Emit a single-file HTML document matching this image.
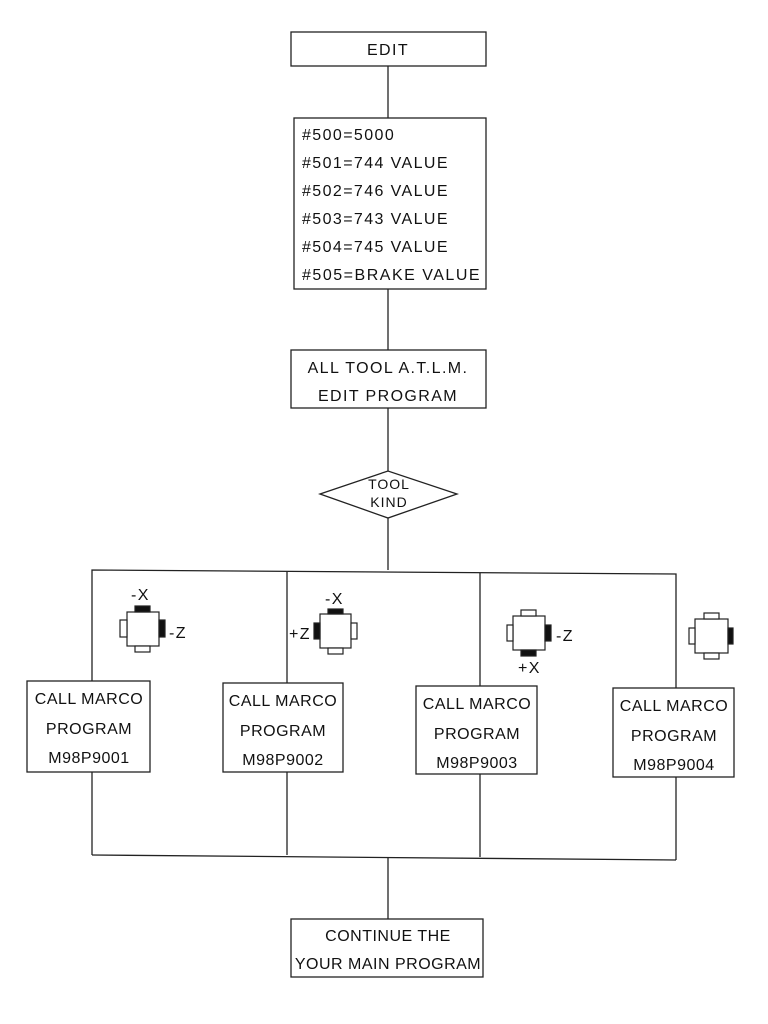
<!DOCTYPE html>
<html><head><style>
html,body{margin:0;padding:0;background:#fff;}
svg{display:block;}
text{font-family:"Liberation Sans",sans-serif;font-size:16px;fill:#111;letter-spacing:1.4px;}
.b text{letter-spacing:0.5px;}
</style></head><body>
<svg width="768" height="1024" viewBox="0 0 768 1024" xmlns="http://www.w3.org/2000/svg">
<g stroke="#222" stroke-width="1.3" fill="none">
<line x1="388" y1="66" x2="388" y2="118"/>
<line x1="388" y1="289" x2="388" y2="350"/>
<line x1="388" y1="408" x2="388" y2="471"/>
<line x1="388" y1="518" x2="388" y2="570"/>
<rect x="291" y="32" width="195" height="34" fill="#fff"/>
<rect x="294" y="118" width="192" height="171" fill="#fff"/>
<rect x="291" y="350" width="195" height="58" fill="#fff"/>
<polygon points="320,494 388,471 457,494 388,518" fill="#fff"/>
<polyline points="92,681 92,570 676,574 676,688"/>
<line x1="287" y1="571" x2="287" y2="683"/>
<line x1="480" y1="573" x2="480" y2="686"/>
<line x1="92" y1="772" x2="92" y2="855"/>
<line x1="287" y1="772" x2="287" y2="855"/>
<line x1="480" y1="774" x2="480" y2="857"/>
<line x1="676" y1="777" x2="676" y2="860"/>
<line x1="92" y1="855" x2="676" y2="860"/>
<line x1="388" y1="857" x2="388" y2="919"/>
<rect x="27" y="681" width="123" height="91" fill="#fff"/>
<rect x="223" y="683" width="120" height="89" fill="#fff"/>
<rect x="416" y="686" width="121" height="88" fill="#fff"/>
<rect x="613" y="688" width="121" height="89" fill="#fff"/>
<rect x="291" y="919" width="192" height="58" fill="#fff"/>
</g>
<text x="388" y="55" text-anchor="middle">EDIT</text>
<text x="302" y="140">#500=5000</text>
<text x="302" y="168">#501=744 VALUE</text>
<text x="302" y="196">#502=746 VALUE</text>
<text x="302" y="224">#503=743 VALUE</text>
<text x="302" y="252">#504=745 VALUE</text>
<text x="302" y="280" textLength="179">#505=BRAKE VALUE</text>
<text x="388" y="373" text-anchor="middle">ALL TOOL A.T.L.M.</text>
<text x="388" y="401" text-anchor="middle">EDIT PROGRAM</text>
<text x="389" y="489" text-anchor="middle" style="font-size:14px;letter-spacing:1px">TOOL</text>
<text x="389" y="507" text-anchor="middle" style="font-size:14px;letter-spacing:1px">KIND</text>
<g text-anchor="middle" class="b">
<text x="89" y="704">CALL MARCO</text><text x="89" y="734">PROGRAM</text><text x="89" y="763">M98P9001</text>
<text x="283" y="706">CALL MARCO</text><text x="283" y="736">PROGRAM</text><text x="283" y="765">M98P9002</text>
<text x="477" y="709">CALL MARCO</text><text x="477" y="739">PROGRAM</text><text x="477" y="768">M98P9003</text>
<text x="674" y="711">CALL MARCO</text><text x="674" y="741">PROGRAM</text><text x="674" y="770">M98P9004</text>
<text x="388" y="941">CONTINUE THE</text>
<text x="388" y="969">YOUR MAIN PROGRAM</text>
</g>
<g stroke="#222" stroke-width="1.2" fill="#fff">
<rect x="127" y="612" width="32" height="34"/>
<rect x="120" y="620" width="7" height="17"/><rect x="135" y="646" width="15" height="6"/>
<rect x="135" y="606" width="15" height="6" fill="#111"/><rect x="159" y="620" width="6" height="17" fill="#111"/>
<rect x="320" y="614" width="31" height="34"/>
<rect x="351" y="623" width="6" height="16"/><rect x="328" y="648" width="15" height="6"/>
<rect x="328" y="609" width="15" height="5" fill="#111"/><rect x="314" y="623" width="6" height="16" fill="#111"/>
<rect x="513" y="616" width="32" height="34"/>
<rect x="507" y="625" width="6" height="16"/><rect x="521" y="610" width="15" height="6"/>
<rect x="521" y="650" width="15" height="6" fill="#111"/><rect x="545" y="625" width="6" height="16" fill="#111"/>
<rect x="695" y="619" width="33" height="34"/>
<rect x="689" y="628" width="6" height="16"/><rect x="704" y="613" width="15" height="6"/><rect x="704" y="653" width="15" height="6"/>
<rect x="728" y="628" width="5" height="16" fill="#111"/>
</g>
<text x="131" y="600">-X</text>
<text x="169" y="638">-Z</text>
<text x="325" y="604">-X</text>
<text x="289" y="639">+Z</text>
<text x="556" y="641">-Z</text>
<text x="518" y="673">+X</text>
</svg>
</body></html>
